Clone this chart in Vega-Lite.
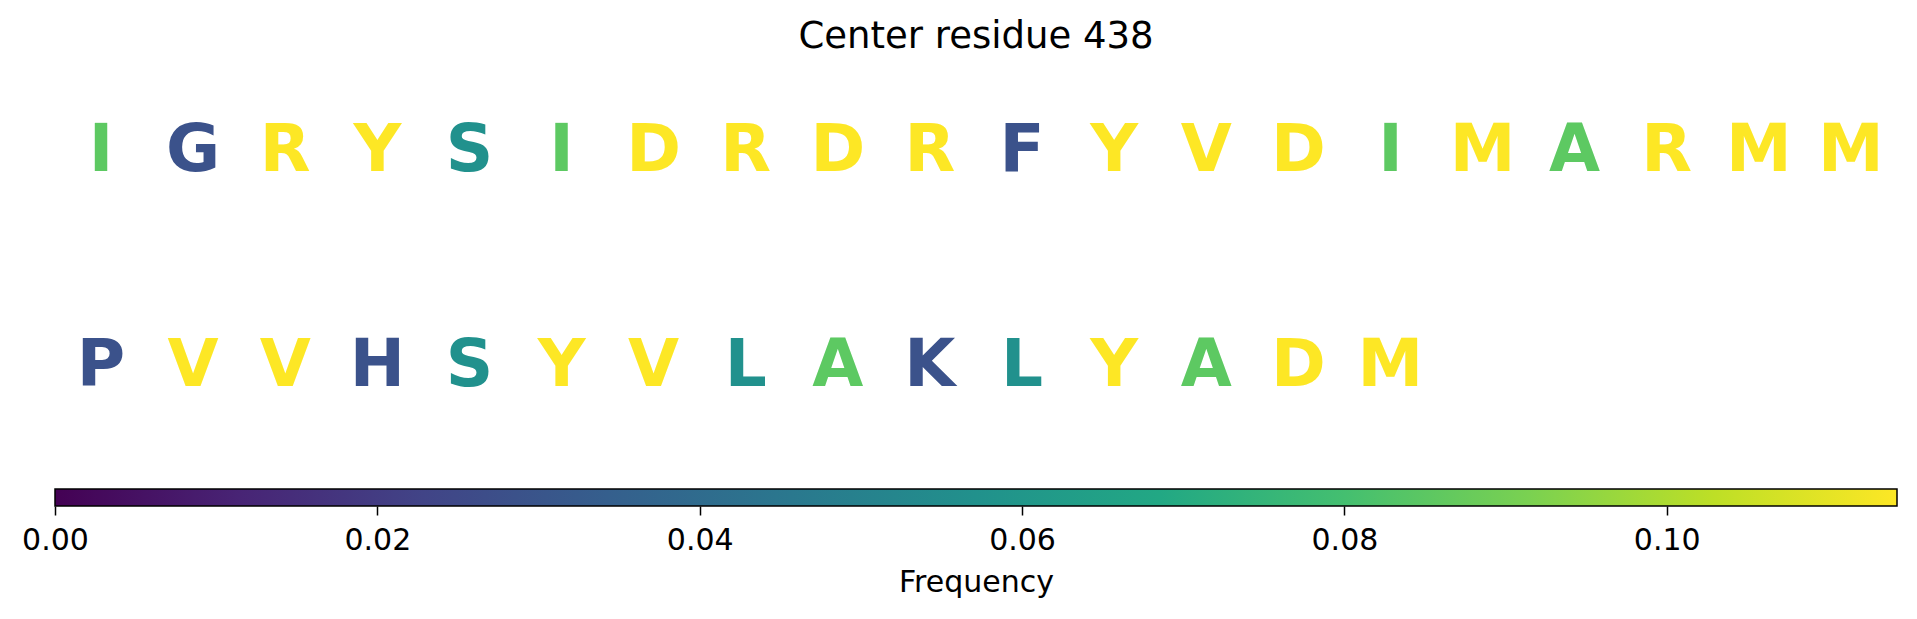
{
  "$schema": "https://vega.github.io/schema/vega-lite/v6.json",
  "padding": {"left": 21, "top": 18, "right": 10, "bottom": 5},
  "background": "white",
  "title": {"text": "Center residue 438", "fontSize": 37, "font": "DejaVu Sans", "fontWeight": "normal", "color": "black", "anchor": "middle", "frame": "group", "offset": 10},
  "config": {"view": {"stroke": null}, "font": "DejaVu Sans"},
  "spacing": 18,
  "vconcat": [
    {
      "width": 1842,
      "height": 404,
      "data": {"values": [
        {"pos": 0, "row": 1, "aa": "I", "freq": 0.0857143},
        {"pos": 1, "row": 1, "aa": "G", "freq": 0.0285714},
        {"pos": 2, "row": 1, "aa": "R", "freq": 0.1142857},
        {"pos": 3, "row": 1, "aa": "Y", "freq": 0.1142857},
        {"pos": 4, "row": 1, "aa": "S", "freq": 0.0571429},
        {"pos": 5, "row": 1, "aa": "I", "freq": 0.0857143},
        {"pos": 6, "row": 1, "aa": "D", "freq": 0.1142857},
        {"pos": 7, "row": 1, "aa": "R", "freq": 0.1142857},
        {"pos": 8, "row": 1, "aa": "D", "freq": 0.1142857},
        {"pos": 9, "row": 1, "aa": "R", "freq": 0.1142857},
        {"pos": 10, "row": 1, "aa": "F", "freq": 0.0285714},
        {"pos": 11, "row": 1, "aa": "Y", "freq": 0.1142857},
        {"pos": 12, "row": 1, "aa": "V", "freq": 0.1142857},
        {"pos": 13, "row": 1, "aa": "D", "freq": 0.1142857},
        {"pos": 14, "row": 1, "aa": "I", "freq": 0.0857143},
        {"pos": 15, "row": 1, "aa": "M", "freq": 0.1142857},
        {"pos": 16, "row": 1, "aa": "A", "freq": 0.0857143},
        {"pos": 17, "row": 1, "aa": "R", "freq": 0.1142857},
        {"pos": 18, "row": 1, "aa": "M", "freq": 0.1142857},
        {"pos": 19, "row": 1, "aa": "M", "freq": 0.1142857},
        {"pos": 0, "row": 2, "aa": "P", "freq": 0.0285714},
        {"pos": 1, "row": 2, "aa": "V", "freq": 0.1142857},
        {"pos": 2, "row": 2, "aa": "V", "freq": 0.1142857},
        {"pos": 3, "row": 2, "aa": "H", "freq": 0.0285714},
        {"pos": 4, "row": 2, "aa": "S", "freq": 0.0571429},
        {"pos": 5, "row": 2, "aa": "Y", "freq": 0.1142857},
        {"pos": 6, "row": 2, "aa": "V", "freq": 0.1142857},
        {"pos": 7, "row": 2, "aa": "L", "freq": 0.0571429},
        {"pos": 8, "row": 2, "aa": "A", "freq": 0.0857143},
        {"pos": 9, "row": 2, "aa": "K", "freq": 0.0285714},
        {"pos": 10, "row": 2, "aa": "L", "freq": 0.0571429},
        {"pos": 11, "row": 2, "aa": "Y", "freq": 0.1142857},
        {"pos": 12, "row": 2, "aa": "A", "freq": 0.0857143},
        {"pos": 13, "row": 2, "aa": "D", "freq": 0.1142857},
        {"pos": 14, "row": 2, "aa": "M", "freq": 0.1142857}
      ]},
      "mark": {"type": "text", "font": "DejaVu Sans", "fontWeight": "bold", "fontSize": 66, "align": "center", "baseline": "alphabetic"},
      "encoding": {
        "x": {"field": "pos", "type": "quantitative", "scale": {"domain": [-0.5, 19.5], "nice": false, "zero": false}, "axis": null},
        "y": {"field": "row", "type": "quantitative", "scale": {"domain": [0.51, 2.389], "nice": false, "zero": false, "reverse": true}, "axis": null},
        "text": {"field": "aa", "type": "nominal"},
        "color": {"field": "freq", "type": "quantitative", "scale": {"scheme": "viridis", "domain": [0, 0.1142857], "nice": false}, "legend": null}
      }
    },
    {
      "width": 1842,
      "height": 17,
      "data": {"values": [{"start": 0, "end": 0.1142857}]},
      "mark": {"type": "rect", "stroke": "black", "strokeWidth": 1.5, "fill": {"x1": 0, "y1": 0, "x2": 1, "y2": 0, "gradient": "linear", "stops": [
        {"offset": 0.0, "color": "#440154"},
        {"offset": 0.1, "color": "#482475"},
        {"offset": 0.2, "color": "#414487"},
        {"offset": 0.3, "color": "#355f8d"},
        {"offset": 0.4, "color": "#2a788e"},
        {"offset": 0.5, "color": "#21918c"},
        {"offset": 0.6, "color": "#22a884"},
        {"offset": 0.7, "color": "#44bf70"},
        {"offset": 0.8, "color": "#7ad151"},
        {"offset": 0.9, "color": "#bddf26"},
        {"offset": 1.0, "color": "#fde725"}
      ]}},
      "encoding": {
        "x": {"field": "start", "type": "quantitative", "scale": {"domain": [0, 0.1142857], "nice": false, "zero": false},
          "axis": {"title": "Frequency", "values": [0, 0.02, 0.04, 0.06, 0.08, 0.1], "format": ".2f", "domain": false, "grid": false,
            "ticks": true, "tickColor": "black", "tickSize": 9, "tickWidth": 1.5, "labelFontSize": 30, "labelFont": "DejaVu Sans", "labelColor": "black",
            "labelPadding": 10, "labelFlush": false, "labelOverlap": false, "titleFontSize": 30, "titleFont": "DejaVu Sans", "titleFontWeight": "normal", "titleColor": "black", "titlePadding": 12}},
        "x2": {"field": "end"}
      }
    }
  ]
}
